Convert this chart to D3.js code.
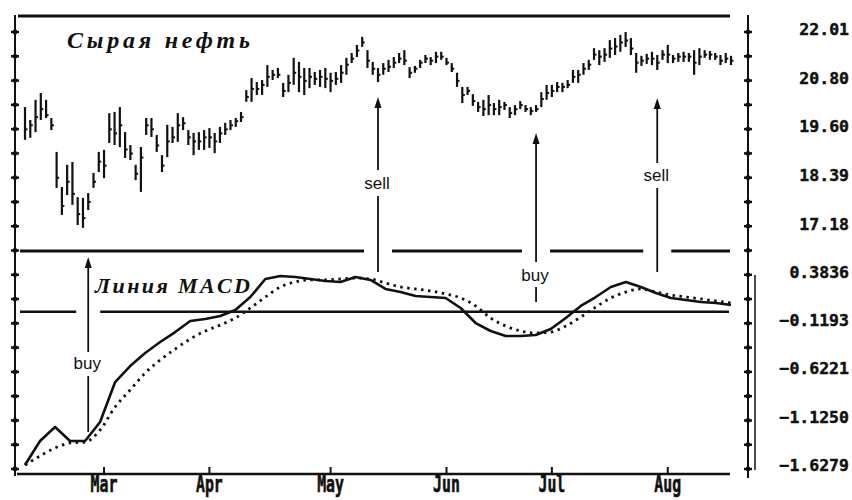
<!DOCTYPE html>
<html>
<head>
<meta charset="utf-8">
<script src="https://cdn.jsdelivr.net/npm/d3@7/dist/d3.min.js"></script>
<style>
  body { margin: 0; background: #fff; }
  svg { display: block; }
  .num { font-family: "DejaVu Sans Mono", monospace; font-weight: bold; font-size: 16.5px; fill: #111; stroke: #111; stroke-width: 0.45px; }
  .title { font-family: "Liberation Serif", "DejaVu Serif", serif; font-weight: bold; font-style: italic; fill: #111; }
  .sig { font-family: "Liberation Sans", Arial, sans-serif; font-size: 17px; fill: #111; }
</style>
</head>
<body>
<script>
// Crude oil daily bars + MACD panel

var width = 852;
var height = 500;

// daily bars (one per trading day)
var highs = [
  20.15, 19.83, 20.33, 20.50, 20.33, 19.88, 19.04, 18.17, 18.72, 18.79,
  17.92, 17.90, 18.02, 18.52, 19.04, 19.09, 20.00, 20.03, 20.15, 19.53,
  19.21, 18.72, 19.16, 19.88, 19.88, 19.46, 18.96, 19.71, 19.66, 20.00,
  19.90, 19.58, 19.51, 19.53, 19.58, 19.63, 19.51, 19.66, 19.76, 19.83,
  19.88, 20.03, 20.57, 20.87, 20.77, 20.82, 21.19, 21.07, 21.12, 20.75,
  20.95, 21.37, 21.27, 21.12, 21.12, 21.02, 21.07, 21.12, 21.00, 21.02,
  21.19, 21.37, 21.49, 21.69, 21.89, 21.56, 21.27, 21.12, 21.24, 21.32,
  21.39, 21.49, 21.56, 21.14, 21.17, 21.32, 21.44, 21.39, 21.52, 21.52,
  21.37, 21.24, 21.00, 20.65, 20.65, 20.47, 20.28, 20.33, 20.45, 20.25,
  20.33, 20.28, 20.15, 20.20, 20.30, 20.20, 20.15, 20.20, 20.52, 20.70,
  20.70, 20.77, 20.75, 20.82, 21.07, 21.07, 21.24, 21.32, 21.61, 21.56,
  21.61, 21.81, 21.86, 21.94, 22.01, 21.86, 21.49, 21.42, 21.47, 21.52,
  21.44, 21.56, 21.69, 21.44, 21.49, 21.52, 21.49, 21.56, 21.61, 21.56,
  21.54, 21.49, 21.44, 21.49, 21.42
];
var lows = [
  19.34, 19.39, 19.53, 19.83, 19.88, 19.58, 18.15, 17.48, 17.97, 17.73,
  17.23, 17.16, 17.60, 18.15, 18.54, 18.39, 19.26, 19.21, 19.16, 18.89,
  18.84, 18.34, 18.05, 19.46, 19.41, 19.04, 18.54, 18.91, 19.26, 19.29,
  19.58, 19.21, 18.96, 19.09, 19.09, 19.14, 19.01, 19.26, 19.46, 19.58,
  19.66, 19.78, 20.28, 20.28, 20.45, 20.45, 20.65, 20.82, 20.87, 20.40,
  20.52, 20.70, 20.52, 20.45, 20.62, 20.70, 20.65, 20.62, 20.52, 20.70,
  20.75, 20.95, 21.24, 21.39, 21.64, 21.12, 20.95, 20.77, 20.95, 21.02,
  21.12, 21.24, 21.19, 20.87, 21.00, 21.12, 21.24, 21.19, 21.24, 21.32,
  21.19, 21.02, 20.65, 20.25, 20.45, 20.18, 20.03, 19.93, 19.95, 19.95,
  19.95, 20.08, 19.88, 19.95, 20.10, 20.03, 19.95, 20.03, 20.15, 20.33,
  20.40, 20.52, 20.52, 20.62, 20.75, 20.75, 20.95, 21.07, 21.32, 21.19,
  21.27, 21.37, 21.44, 21.52, 21.64, 21.44, 21.00, 21.17, 21.22, 21.19,
  21.07, 21.32, 21.24, 21.24, 21.27, 21.27, 21.27, 20.95, 21.19, 21.37,
  21.32, 21.32, 21.19, 21.24, 21.19
];
var closes = [
  19.60, 19.70, 19.90, 20.10, 19.95, 19.70, 18.40, 17.70, 18.30, 18.00,
  17.50, 17.40, 17.80, 18.30, 18.80, 18.70, 19.60, 19.50, 19.70, 19.10,
  19.00, 18.50, 18.90, 19.70, 19.60, 19.20, 18.70, 19.30, 19.40, 19.70,
  19.75, 19.40, 19.30, 19.30, 19.40, 19.40, 19.30, 19.50, 19.60, 19.70,
  19.80, 19.90, 20.40, 20.60, 20.60, 20.70, 20.90, 20.95, 20.95, 20.55,
  20.75, 21.00, 20.90, 20.80, 20.90, 20.85, 20.90, 20.85, 20.80, 20.85,
  21.00, 21.20, 21.35, 21.55, 21.75, 21.30, 21.10, 20.95, 21.10, 21.15,
  21.25, 21.35, 21.30, 21.00, 21.10, 21.25, 21.35, 21.30, 21.40, 21.40,
  21.25, 21.10, 20.80, 20.45, 20.55, 20.30, 20.15, 20.10, 20.20, 20.10,
  20.15, 20.20, 20.00, 20.10, 20.20, 20.10, 20.05, 20.10, 20.35, 20.50,
  20.55, 20.65, 20.65, 20.70, 20.90, 20.95, 21.10, 21.20, 21.45, 21.40,
  21.45, 21.60, 21.65, 21.75, 21.80, 21.60, 21.25, 21.30, 21.35, 21.35,
  21.25, 21.45, 21.45, 21.35, 21.40, 21.40, 21.40, 21.25, 21.40, 21.45,
  21.45, 21.40, 21.30, 21.35, 21.30
];

// MACD (solid) and signal (dotted), sampled evenly over the same period
var macd = [
  -1.597, -1.347, -1.201, -1.347, -1.347, -1.148, -0.732, -0.565, -0.429, -0.315,
  -0.211, -0.096, -0.075, -0.044, 0.019, 0.154, 0.342, 0.373, 0.363, 0.342,
  0.321, 0.311, 0.363, 0.332, 0.238, 0.206, 0.165, 0.154, 0.144, 0.040,
  -0.117, -0.200, -0.252, -0.252, -0.242, -0.179, -0.065, 0.061, 0.154, 0.259,
  0.311, 0.259, 0.196, 0.144, 0.123, 0.102, 0.092, 0.071
];
var signal = [
  -1.597, -1.503, -1.419, -1.367, -1.357, -1.232, -0.992, -0.815, -0.638, -0.502,
  -0.388, -0.283, -0.200, -0.138, -0.065, 0.040, 0.154, 0.259, 0.311, 0.332,
  0.332, 0.342, 0.352, 0.342, 0.300, 0.259, 0.238, 0.217, 0.186, 0.144,
  0.061, -0.065, -0.148, -0.200, -0.221, -0.211, -0.148, -0.054, 0.050, 0.144,
  0.206, 0.238, 0.206, 0.175, 0.154, 0.134, 0.113, 0.092
];

var priceTicks = [22.01, 20.80, 19.60, 18.39, 17.18];
var macdTicks = [0.3836, -0.1193, -0.6221, -1.1250, -1.6279];

var months = ["Mar", "Apr", "May", "Jun", "Jul", "Aug"];
var monthStartBar = [15, 35, 58, 80, 100, 122];

var signalBars = [12, 67, 97, 120];
var signalText = ["buy", "sell", "buy", "sell"];

// scales
var xScale = d3.scaleLinear().domain([0, highs.length - 1]).range([25, 731]);
var xMacd = d3.scaleLinear().domain([0, macd.length - 1]).range([25, 731]);
var yPrice = d3.scaleLinear().domain([17.18, 22.01]).range([227, 32]);
var yMacd = d3.scaleLinear().domain([-1.6279, 0.3836]).range([468, 275]);
var yGrid = d3.scaleLinear().domain([0, 18]).range([32, 469]); // tick dots on side rails

var svg = d3.select("body").append("svg")
  .attr("width", width)
  .attr("height", height);

svg.append("rect").attr("width", width).attr("height", height).attr("fill", "#fff");

var ink = "#111";

// arrow geometry (tip / bottom / label baseline), by signal
var arrowLayout = [
  { tip: 257, end: 432, label: 369, gap: [352, 376] },
  { tip: 97,  end: 272, label: 189, gap: [170, 196] },
  { tip: 133, end: 302, label: 281, gap: [262, 287] },
  { tip: 98,  end: 272, label: 181, gap: [163, 188] }
];

// horizontal rule with gaps where arrows cross it
function brokenRule(y, x0, x1, sw, gapHalf) {
  var cuts = [];
  signalBars.forEach(function(b, i) {
    var a = arrowLayout[i];
    if (a.tip < y && a.end > y) cuts.push(xScale(b));
  });
  cuts.sort(d3.ascending);
  var segs = [], start = x0;
  cuts.forEach(function(c) {
    segs.push([start, c - gapHalf]);
    start = c + gapHalf;
  });
  segs.push([start, x1]);
  svg.append("g").selectAll("line")
    .data(segs)
    .enter()
    .append("line")
    .attr("x1", function(d) { return d[0]; })
    .attr("x2", function(d) { return d[1]; })
    .attr("y1", y).attr("y2", y)
    .attr("stroke", ink)
    .attr("stroke-width", sw);
}

// frame lines
svg.append("line").attr("x1", 18).attr("x2", 730).attr("y1", 16).attr("y2", 16)
  .attr("stroke", ink).attr("stroke-width", 3);
brokenRule(251, 20, 730, 3, 14);
brokenRule(yMacd(0), 20, 729, 2.5, 12);
svg.append("line").attr("x1", 17).attr("x2", 730).attr("y1", 474).attr("y2", 474)
  .attr("stroke", ink).attr("stroke-width", 2.5);

// side rails with tick dots
[15, 748].forEach(function(xr) {
  svg.append("line").attr("x1", xr).attr("x2", xr).attr("y1", 15).attr("y2", xr < 100 ? 476 : 478)
    .attr("stroke", ink).attr("stroke-width", 2);
  var g = svg.append("g");
  g.selectAll("line")
    .data(d3.range(19))
    .enter()
    .append("line")
    .attr("x1", xr - 4).attr("x2", xr + 4)
    .attr("y1", function(d) { return yGrid(d); })
    .attr("y2", function(d) { return yGrid(d); })
    .attr("stroke", ink).attr("stroke-width", 2.5);
  g.selectAll("circle")
    .data(d3.range(19))
    .enter()
    .append("circle")
    .attr("cx", xr)
    .attr("cy", function(d) { return yGrid(d); })
    .attr("r", 2.4)
    .attr("fill", ink);
});
svg.append("line").attr("x1", 755).attr("x2", 755)
  .attr("y1", yMacd(0.3836)).attr("y2", yMacd(-1.6279) + 2)
  .attr("stroke", ink).attr("stroke-width", 1.5);

// price bars
var bars = svg.append("g");
bars.selectAll("line.hl")
  .data(highs)
  .enter()
  .append("line")
  .attr("class", "hl")
  .attr("x1", function(d, i) { return xScale(i); })
  .attr("x2", function(d, i) { return xScale(i); })
  .attr("y1", function(d) { return yPrice(d); })
  .attr("y2", function(d, i) { return yPrice(lows[i]); })
  .attr("stroke", ink)
  .attr("stroke-width", 2.2);
bars.selectAll("line.cl")
  .data(closes)
  .enter()
  .append("line")
  .attr("class", "cl")
  .attr("x1", function(d, i) { return xScale(i); })
  .attr("x2", function(d, i) { return xScale(i) + 2.5; })
  .attr("y1", function(d) { return yPrice(d); })
  .attr("y2", function(d) { return yPrice(d); })
  .attr("stroke", ink)
  .attr("stroke-width", 2);

// MACD lines
var macdLine = d3.line()
  .x(function(d, i) { return xMacd(i); })
  .y(function(d) { return yMacd(d); });

svg.append("path")
  .datum(signal)
  .attr("d", macdLine.curve(d3.curveMonotoneX))
  .attr("fill", "none")
  .attr("stroke", ink)
  .attr("stroke-width", 2.8)
  .attr("stroke-dasharray", "2.5,4.5");

svg.append("path")
  .datum(macd)
  .attr("d", macdLine.curve(d3.curveLinear))
  .attr("fill", "none")
  .attr("stroke", ink)
  .attr("stroke-width", 2.6)
  .attr("stroke-linejoin", "round");

// buy / sell arrows
signalBars.forEach(function(b, i) {
  var a = arrowLayout[i];
  var xa = xScale(b);
  var g = svg.append("g");
  g.append("line").attr("x1", xa).attr("x2", xa).attr("y1", a.tip + 8).attr("y2", a.gap[0])
    .attr("stroke", ink).attr("stroke-width", 1.8);
  g.append("line").attr("x1", xa).attr("x2", xa).attr("y1", a.gap[1]).attr("y2", a.end)
    .attr("stroke", ink).attr("stroke-width", 1.8);
  g.append("path")
    .attr("d", "M" + xa + "," + a.tip + "L" + (xa - 3.5) + "," + (a.tip + 11) + "L" + (xa + 3.5) + "," + (a.tip + 11) + "Z")
    .attr("fill", ink);
  g.append("text")
    .attr("class", "sig")
    .attr("x", xa - 1)
    .attr("y", a.label)
    .attr("text-anchor", "middle")
    .text(signalText[i]);
});

// titles
svg.append("text").attr("class", "title")
  .attr("x", 67).attr("y", 48)
  .attr("font-size", 24)
  .attr("textLength", 183).attr("lengthAdjust", "spacing")
  .text("Сырая нефть");
svg.append("text").attr("class", "title")
  .attr("x", 95).attr("y", 293)
  .attr("font-size", 22)
  .attr("textLength", 155).attr("lengthAdjust", "spacing")
  .text("Линия MACD");

// right-hand value labels
var priceAxis = d3.axisLeft(yPrice)
  .tickValues(priceTicks)
  .tickFormat(d3.format(".2f"))
  .tickSize(0)
  .tickPadding(0);
var macdAxis = d3.axisLeft(yMacd)
  .tickValues(macdTicks)
  .tickFormat(d3.format(".4f"))
  .tickSize(0)
  .tickPadding(0);

[[priceAxis, -3], [macdAxis, -3]].forEach(function(p) {
  var g = svg.append("g")
    .attr("transform", "translate(849," + p[1] + ")")
    .call(p[0]);
  g.select(".domain").remove();
  g.selectAll("text")
    .attr("class", "num")
    .attr("font-family", null)
    .attr("font-size", null)
    .attr("fill", null);
});

// month axis
var monthG = svg.append("g").selectAll("g")
  .data(months)
  .enter()
  .append("g")
  .attr("transform", function(d, i) { return "translate(" + xScale(monthStartBar[i]) + ",0)"; });
monthG.append("line")
  .attr("y1", 467).attr("y2", 474)
  .attr("stroke", ink).attr("stroke-width", 2);
monthG.append("text")
  .attr("class", "num")
  .attr("text-anchor", "middle")
  .attr("transform", "translate(0,492) scale(0.9,1.4)")
  .text(function(d) { return d; });
</script>
</body>
</html>
